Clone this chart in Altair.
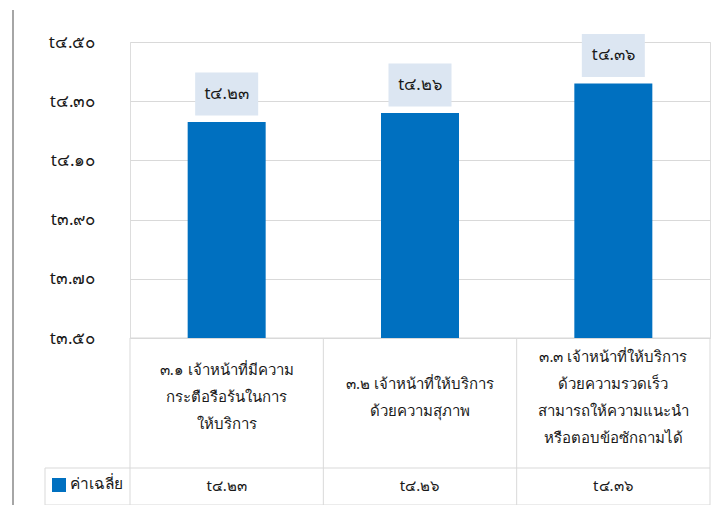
import json
import altair as alt
import pandas as pd

categories = [
    "๓.๑ เจ้าหน้าที่มีความ\nกระตือรือร้นในการ\nให้บริการ",
    "๓.๒ เจ้าหน้าที่ให้บริการ\nด้วยความสุภาพ",
    "๓.๓ เจ้าหน้าที่ให้บริการ\nด้วยความรวดเร็ว\nสามารถให้ความแนะนำ\nหรือตอบข้อซักถามได้",
]
values = [4.23, 4.26, 4.36]
value_labels = ["t๔.๒๓", "t๔.๒๖", "t๔.๓๖"]
y_ticks = [3.5, 3.7, 3.9, 4.1, 4.3, 4.5]
y_tick_labels = ["t๓.๕๐", "t๓.๗๐", "t๓.๙๐", "t๔.๑๐", "t๔.๓๐", "t๔.๕๐"]
series_name = "ค่าเฉลี่ย"

BLUE = "#0070c0"
GRID = "#d9d9d9"
FONT = "Noto Sans"
TXT = "#1a1a1a"

df = pd.DataFrame({"cat": categories, "value": values, "label": value_labels})

label_expr = "{}[indexof({}, datum.value)]".format(
    json.dumps(y_tick_labels, ensure_ascii=False), json.dumps(y_ticks)
)

x = alt.X("cat:N", sort=categories, scale=alt.Scale(paddingInner=0, paddingOuter=0), axis=None)
y = alt.Y(
    "value:Q",
    scale=alt.Scale(domain=[3.5, 4.5], nice=False, zero=False),
    axis=alt.Axis(
        values=y_ticks, labelExpr=label_expr, title=None, domain=False, ticks=False,
        labelPadding=35, gridColor=GRID, labelFontSize=17, labelColor=TXT, labelFont=FONT,
    ),
)

base = alt.Chart(df)

bars = base.mark_bar(size=78, color=BLUE).encode(x=x, y=y, y2=alt.datum(3.5))

box_path = "M-1,-0.683L1,-0.683L1,0.683L-1,0.683Z"
boxes = base.mark_point(shape=box_path, size=3969, filled=True, color="#dce6f2", opacity=1, yOffset=-28).encode(x=x, y=y)
box_text = base.mark_text(yOffset=-28, fontSize=16.5, baseline="middle", font=FONT, color=TXT).encode(
    x=x, y=y, text="label:N"
)

header_text = base.transform_calculate(
    n="length(split(datum.cat, '\\n'))",
    ty="355 - (datum.n - 1) * 13.5",
).mark_text(
    lineBreak="\n", lineHeight=27, fontSize=15, baseline="middle", font=FONT, color=TXT
).encode(x=x, y=alt.Y("ty:Q", scale=None), text="cat:N")

value_text = base.mark_text(fontSize=15, baseline="middle", font=FONT, color=TXT).encode(
    x=x, y=alt.value(444), text="label:N"
)

one = alt.Chart(pd.DataFrame({"name": [series_name]}))
legend_sq = one.mark_point(shape="square", filled=True, color=BLUE, opacity=1, size=196).encode(
    x=alt.value(-71), y=alt.value(443)
)
legend_txt = one.mark_text(align="left", baseline="middle", fontSize=15.5, font=FONT, color=TXT).encode(
    x=alt.value(-60), y=alt.value(442), text="name:N"
)


def hrule(x1, x2, yy, color=GRID, w=1):
    return one.mark_rule(color=color, strokeWidth=w).encode(x=alt.value(x1), x2=alt.value(x2), y=alt.value(yy))


def vrule(xx, y1, y2, color=GRID, w=1):
    return one.mark_rule(color=color, strokeWidth=w).encode(x=alt.value(xx), y=alt.value(y1), y2=alt.value(y2))


step = 580 / 3
borders = [
    hrule(0, 580, 296),
    hrule(-85, 580, 426),
    hrule(-85, 580, 463),
    vrule(-85, 426, 463),
    vrule(-117, -32, 470, color="#a6a6a6", w=2),
] + [vrule(i * step, 296, 463) for i in range(4)]

chart = alt.layer(
    *borders, bars, boxes, box_text, header_text, value_text, legend_sq, legend_txt
).properties(
    width=580, height=296, autosize=alt.AutoSizeParams(type="none"),
    padding={"left": 122, "top": 34, "right": 1, "bottom": 167},
).configure_view(stroke=None).configure(font=FONT)

chart.save("out.html", embed_options={"renderer": "svg", "actions": False})
